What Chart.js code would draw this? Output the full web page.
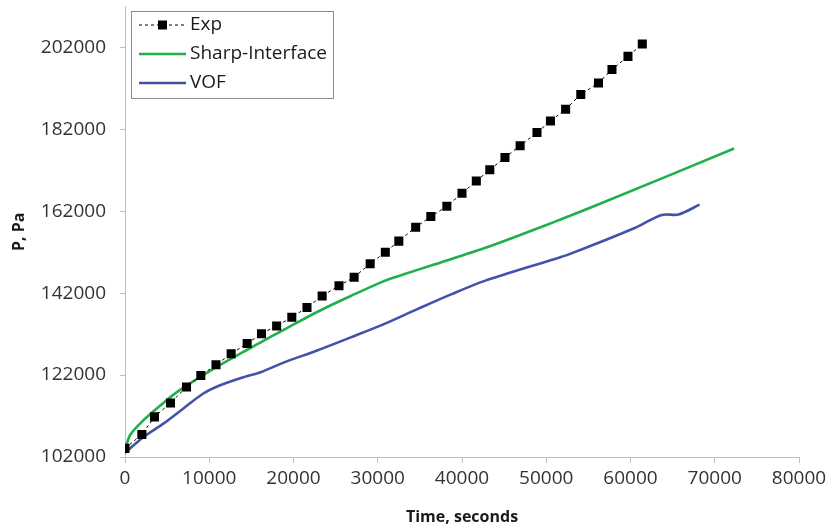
<!DOCTYPE html>
<html>
<head>
<meta charset="utf-8">
<script src="https://cdn.jsdelivr.net/npm/chart.js@4"></script>
<style>
    html, body { margin: 0; padding: 0; background: #fff; }
    #wrap { width: 830px; height: 530px; }
</style>
</head>
<body>
<div id="wrap"><canvas id="chart" width="830" height="530"></canvas></div>
<script>
// Exp (measured)
const expTime = [0, 2000, 3500, 5400, 7300, 9000, 10800, 12600, 14500, 16200, 18000, 19800, 21600, 23400, 25400, 27200, 29100, 30900, 32500, 34500, 36300, 38200, 40000, 41700, 43300, 45100, 46900, 48900, 50500, 52300, 54100, 56200, 57800, 59700, 61400];
const expP = [104100, 107500, 111800, 115200, 119100, 121900, 124500, 127200, 129700, 132100, 134000, 136100, 138500, 141300, 143800, 145900, 149200, 152000, 154700, 158100, 160700, 163200, 166400, 169400, 172100, 175100, 178000, 181200, 184000, 186900, 190500, 193300, 196600, 199800, 202800];

// Sharp-Interface
const sharpTime = [0, 600, 2200, 4200, 6200, 8900, 11300, 14100, 16100, 18900, 22800, 26800, 30800, 33100, 36700, 42700, 50600, 56600, 72300];
const sharpP = [103500, 107300, 111000, 114600, 117900, 121500, 124500, 127700, 130000, 133100, 137400, 141300, 145000, 146600, 149000, 153000, 159100, 164000, 177300];

// VOF
const vofTime = [0, 2200, 4600, 6900, 9300, 11300, 14100, 16100, 18900, 22800, 26800, 30800, 34700, 38700, 42700, 50600, 52600, 60500, 63700, 65700, 68200];
const vofP = [103000, 106900, 110200, 113800, 117500, 119500, 121500, 122700, 125100, 128000, 131200, 134500, 138100, 141700, 145000, 150100, 151400, 157900, 161100, 161200, 163600];

const yTicks = [102000, 122000, 142000, 162000, 182000, 202000];

const toXY = (xs, ys) => xs.map((x, i) => ({ x: x, y: ys[i] }));

const FONT = "'Open Sans', sans-serif";

// legend box drawn inside the plot, like the original
const boxLegend = {
    id: 'boxLegend',
    afterDraw(chart) {
        const ctx = chart.ctx;
        const x = 131, y = 11, w = 202, h = 87;
        ctx.save();
        ctx.fillStyle = '#fff';
        ctx.fillRect(x, y, w, h);
        ctx.strokeStyle = '#8c8c8c';
        ctx.lineWidth = 1;
        ctx.strokeRect(x + 0.5, y + 0.5, w, h);

        chart.data.datasets.forEach((ds, i) => {
            const cy = 25 + i * 29;
            ctx.beginPath();
            ctx.strokeStyle = ds.borderColor;
            ctx.lineWidth = ds.borderWidth;
            ctx.setLineDash(ds.borderDash || []);
            ctx.moveTo(139, cy);
            ctx.lineTo(186, cy);
            ctx.stroke();
            ctx.setLineDash([]);
            if (ds.pointRadius) {
                ctx.fillStyle = ds.pointBackgroundColor;
                ctx.fillRect(158, cy - 4.5, 9, 9);
            }
            ctx.fillStyle = '#1a1a1a';
            ctx.font = '19px ' + FONT;
            ctx.textBaseline = 'middle';
            ctx.fillText(ds.label, 190, cy);
        });
        ctx.restore();
    }
};

new Chart(document.getElementById('chart'), {
    type: 'scatter',
    data: {
        datasets: [
            {
                label: 'Exp',
                data: toXY(expTime, expP),
                showLine: true,
                borderColor: '#000',
                borderWidth: 1,
                borderDash: [3, 3],
                pointStyle: 'rect',
                pointRadius: 6.4,
                pointBackgroundColor: '#000',
                pointBorderColor: '#000',
                pointBorderWidth: 0,
            },
            {
                label: 'Sharp-Interface',
                data: toXY(sharpTime, sharpP),
                showLine: true,
                borderColor: '#1fb04b',
                borderWidth: 2.6,
                pointRadius: 0,
                tension: 0.3,
            },
            {
                label: 'VOF',
                data: toXY(vofTime, vofP),
                showLine: true,
                borderColor: '#4153a8',
                borderWidth: 2.6,
                pointRadius: 0,
                tension: 0.3,
            },
        ],
    },
    options: {
        responsive: false,
        animation: false,
        layout: { padding: { left: 4, top: 5, right: 31, bottom: 0 } },
        plugins: {
            legend: { display: false },
            tooltip: { enabled: false },
        },
        scales: {
            x: {
                type: 'linear',
                min: 0,
                max: 80000,
                afterFit: s => {
                    s.height = 73;
                    s.paddingLeft = 0;
                    s.paddingRight = 0;
                },
                ticks: {
                    stepSize: 10000,
                    color: '#333',
                    font: { family: FONT, size: 19 },
                    padding: 4,
                    maxRotation: 0,
                    callback: v => String(v),
                },
                grid: { display: true, drawOnChartArea: false, drawTicks: true, tickLength: 6, color: '#bfbfbf' },
                border: { display: true, color: '#bfbfbf' },
                title: {
                    display: true,
                    text: 'Time, seconds',
                    color: '#1a1a1a',
                    font: { family: FONT, size: 16, weight: 'bold' },
                    padding: { top: 0, bottom: 3 },
                },
            },
            y: {
                type: 'linear',
                min: 102000,
                max: 212000,
                afterFit: s => {
                    s.width = 121;
                    s.paddingTop = 0;
                    s.paddingBottom = 0;
                },
                afterBuildTicks: s => { s.ticks = yTicks.map(v => ({ value: v })); },
                ticks: {
                    color: '#333',
                    font: { family: FONT, size: 19 },
                    padding: 14,
                    callback: v => String(v),
                },
                grid: { display: true, drawOnChartArea: false, drawTicks: true, tickLength: 5, color: '#bfbfbf' },
                border: { display: true, color: '#bfbfbf' },
                title: {
                    display: true,
                    text: 'P, Pa',
                    color: '#1a1a1a',
                    font: { family: FONT, size: 16, weight: 'bold' },
                    padding: { top: 6, bottom: 0 },
                },
            },
        },
    },
    plugins: [boxLegend],
});
</script>
</body>
</html>
